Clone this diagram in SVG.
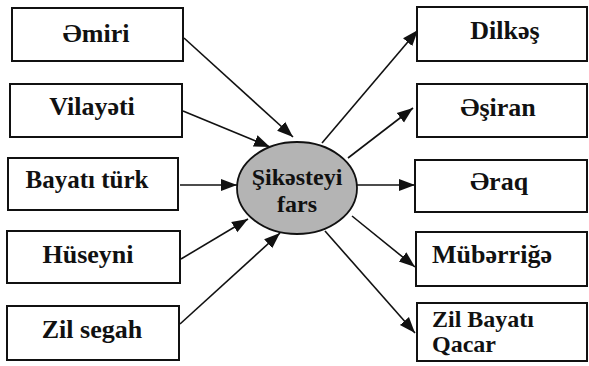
<svg xmlns="http://www.w3.org/2000/svg" width="589" height="366" viewBox="0 0 589 366">
<style>
.box{fill:#fff;stroke:#111;stroke-width:2}
.c{text-anchor:middle}
.ln{stroke:#111;stroke-width:1.6;fill:none;marker-end:url(#ah)}
</style>
<defs>
<marker id="ah" markerUnits="userSpaceOnUse" markerWidth="18" markerHeight="14" refX="16" refY="6" orient="auto" viewBox="0 0 18 12">
<path d="M0,0 L16,6 L0,12 Z" fill="#111"/>
</marker>
</defs>
<rect width="589" height="366" fill="#fff"/>
<g id="connectors">
<line class="ln" x1="184" y1="38" x2="293" y2="137"/>
<line class="ln" x1="183" y1="111" x2="270" y2="147"/>
<line class="ln" x1="180" y1="185" x2="237" y2="185"/>
<line class="ln" x1="181" y1="259" x2="248" y2="219"/>
<line class="ln" x1="180" y1="324" x2="280" y2="233"/>
<line class="ln" x1="322" y1="143" x2="418" y2="30"/>
<line class="ln" x1="348" y1="158" x2="413" y2="108"/>
<line class="ln" x1="357" y1="185" x2="415" y2="185"/>
<line class="ln" x1="352" y1="216" x2="415" y2="267"/>
<line class="ln" x1="325" y1="231" x2="415" y2="333"/>
</g>
<g font-family="Liberation Serif" font-weight="bold" font-size="26" fill="#111">
<g id="center">
<ellipse cx="297" cy="188" rx="60" ry="46" fill="#b4b4b4" stroke="#111" stroke-width="1.8"/>
<text class="c" x="297" y="185" font-size="24">Şikəsteyi</text>
<text class="c" x="297" y="212" font-size="24">fars</text>
</g>
<g id="emiri"><rect class="box" x="12" y="8" width="171" height="53"/><text class="c" x="96" y="42">Əmiri</text></g>
<g id="vilayeti"><rect class="box" x="10" y="84" width="172" height="53"/><text class="c" x="92" y="115">Vilayəti</text></g>
<g id="bayati-turk"><rect class="box" x="8" y="158" width="170" height="52"/><text class="c" x="87" y="188" font-size="25">Bayatı türk</text></g>
<g id="huseyni"><rect class="box" x="7" y="231" width="173" height="52"/><text class="c" x="88" y="263">Hüseyni</text></g>
<g id="zil-segah"><rect class="box" x="7" y="306" width="172" height="54"/><text class="c" x="92" y="338">Zil segah</text></g>
<g id="dilkes"><rect class="box" x="417" y="7" width="170" height="54"/><text class="c" x="505" y="39">Dilkəş</text></g>
<g id="esiran"><rect class="box" x="417" y="84" width="170" height="53"/><text class="c" x="498" y="116">Əşiran</text></g>
<g id="eraq"><rect class="box" x="415" y="160" width="172" height="52"/><text class="c" x="499" y="190">Əraq</text></g>
<g id="muberrige"><rect class="box" x="416" y="232" width="171" height="54"/><text class="c" x="492" y="263">Mübərriğə</text></g>
<g id="zil-bayati-qacar"><rect class="box" x="417" y="303" width="170" height="58"/><text x="432" y="327" font-size="24">Zil Bayatı</text><text x="432" y="352" font-size="24">Qacar</text></g>
</g>
</svg>
